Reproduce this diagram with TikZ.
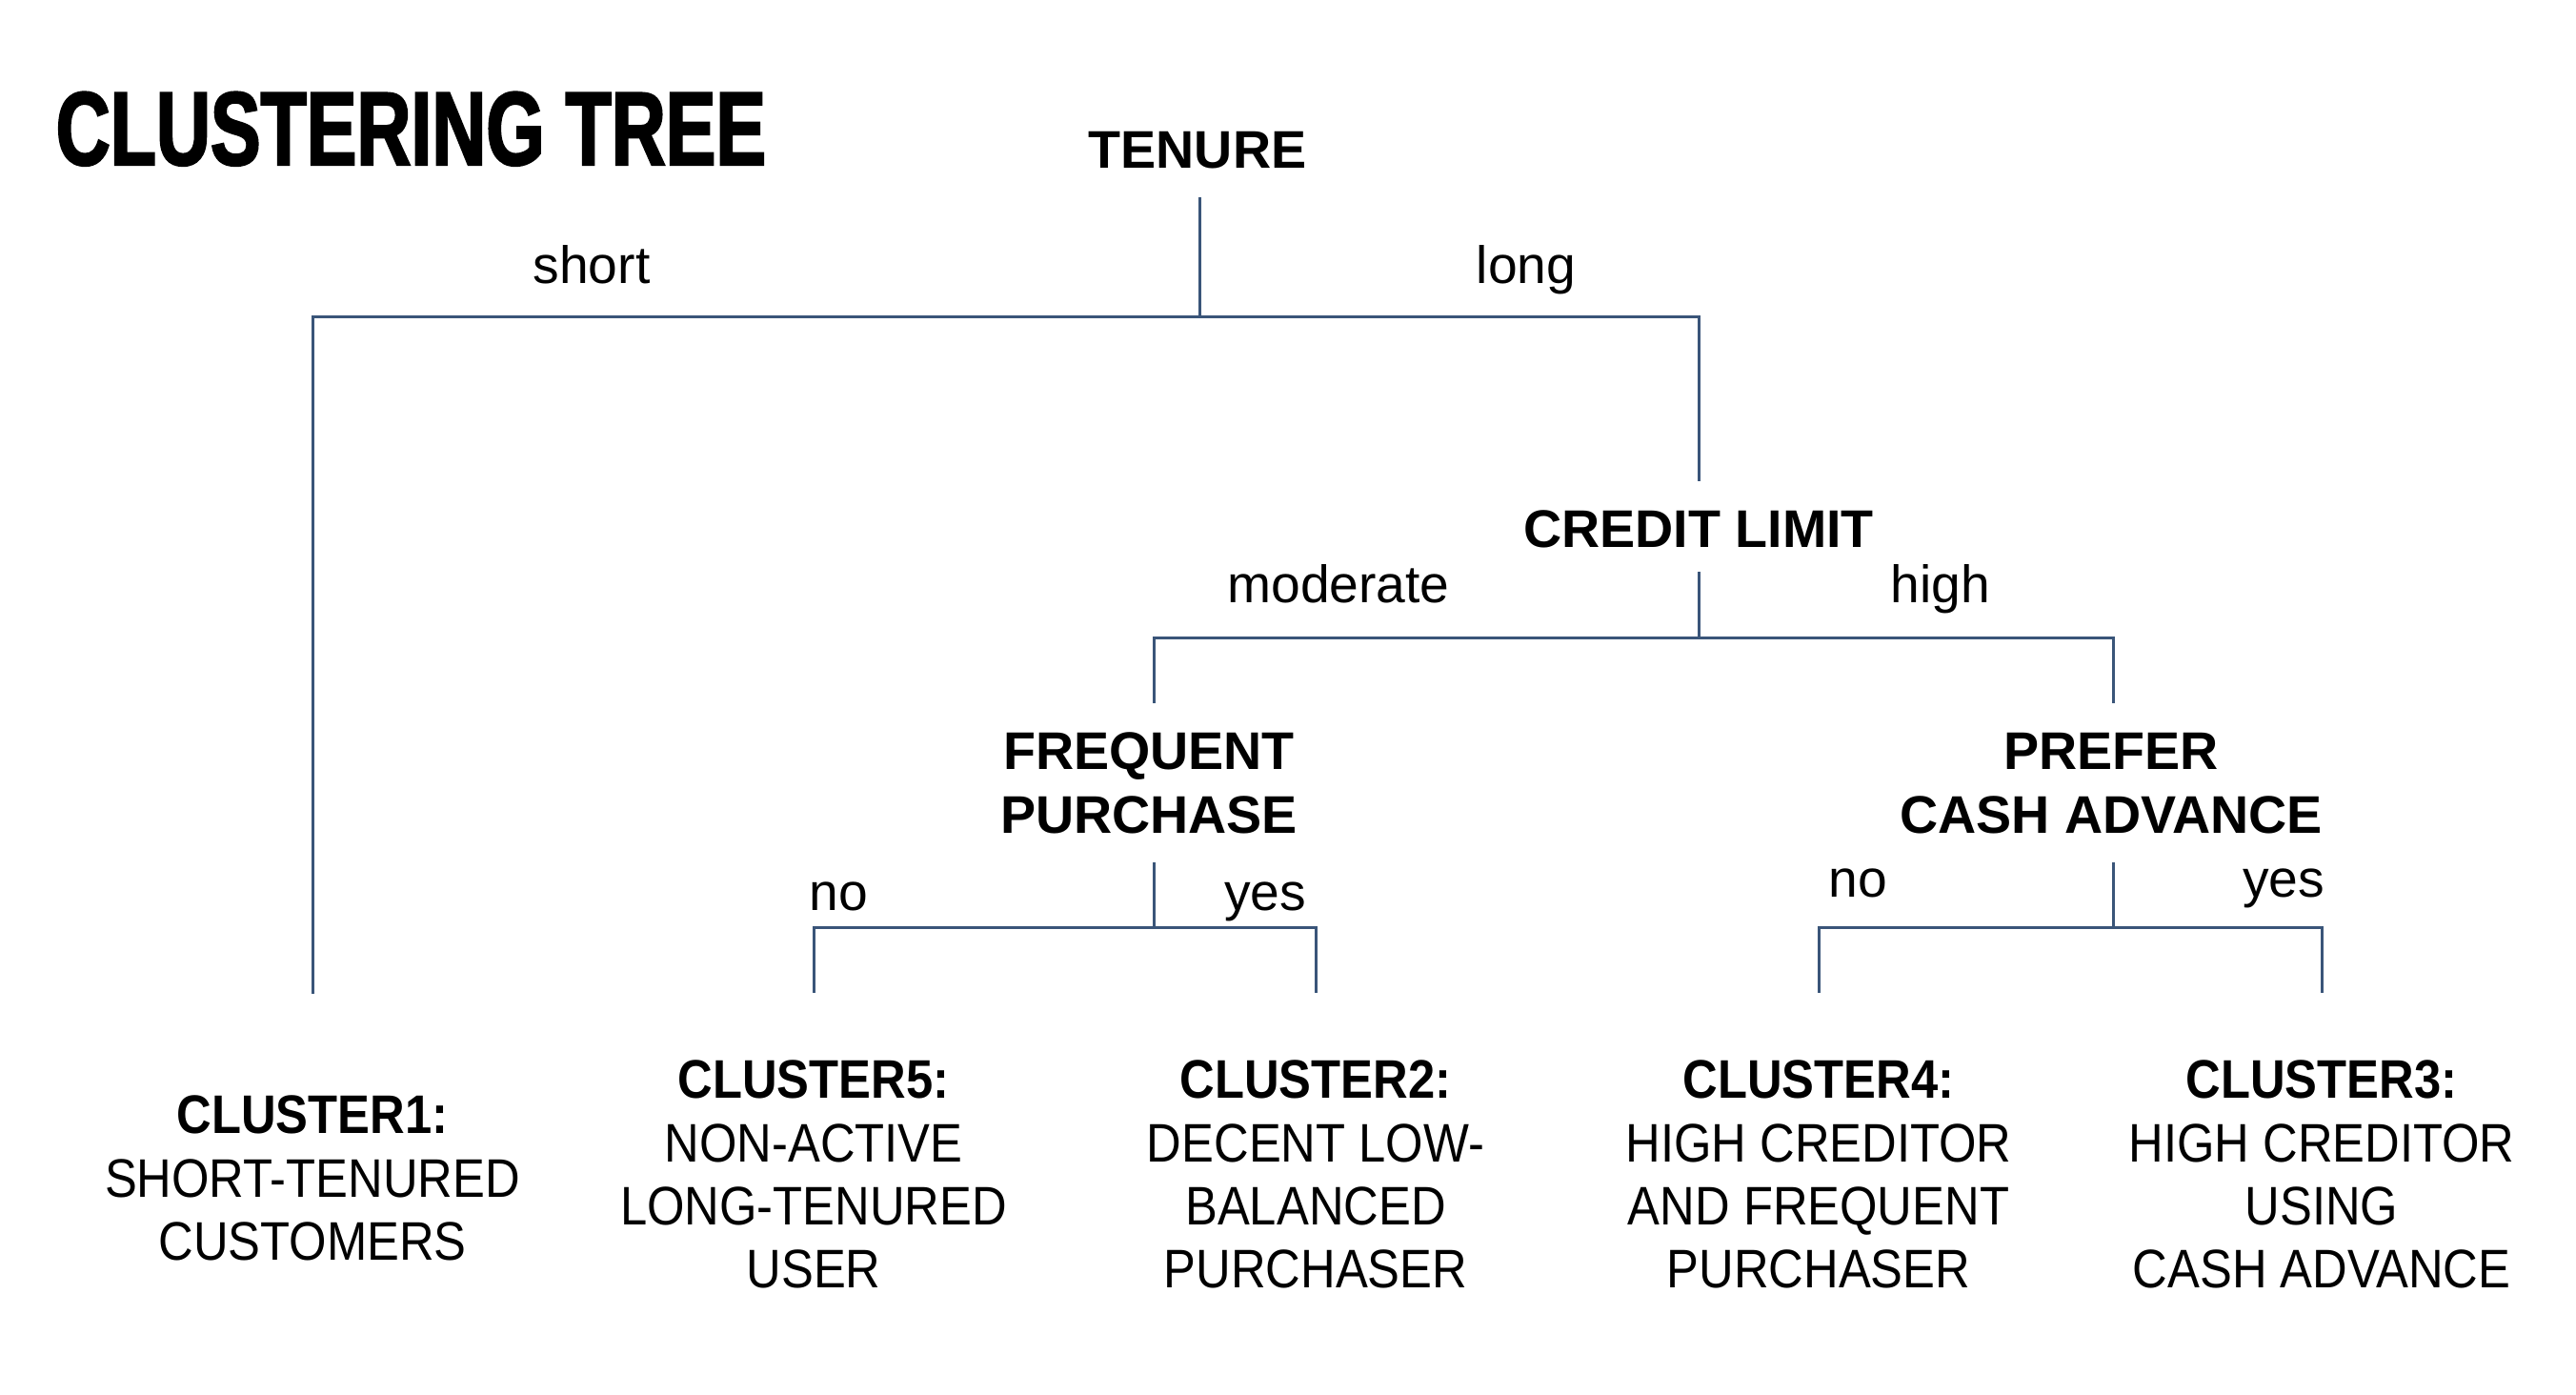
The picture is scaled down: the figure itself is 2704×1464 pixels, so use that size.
\documentclass[tikz,border=0pt]{standalone}
\usepackage{fontspec}
\setmainfont{Liberation Sans}
\newfontfamily\clusterfont[FakeStretch=0.89]{Liberation Sans}
\newfontfamily\titlefont[FakeStretch=0.72,FakeBold=2]{Liberation Sans Bold}
\definecolor{linecol}{HTML}{3A5579}
\begin{document}
\begin{tikzpicture}[x=0.25pt,y=-0.25pt,
  branch/.style={draw=linecol,line width=0.75pt},
  head/.style={font=\bfseries\fontsize{13.9}{16.75}\selectfont,align=center,inner sep=0pt},
  lab/.style={font=\fontsize{13.8}{16}\selectfont,inner sep=0pt,anchor=base},
  leaf/.style={font=\clusterfont\fontsize{14.25}{16.6}\selectfont,align=center,inner sep=0pt,anchor=north}]
\useasboundingbox[fill=white] (0,0) rectangle (2704,1464);

% title
\node[font=\titlefont\fontsize{27.4}{30}\selectfont,anchor=base west,inner sep=0pt] (title) at (58,173) {CLUSTERING TREE};

% decision nodes
\node[head,anchor=base] (tenure) at (1257,177) {TENURE};
\node[head,anchor=base] (credit) at (1783,575) {CREDIT LIMIT};
\node[head,anchor=north] (freq) at (1206,768) {FREQUENT\\PURCHASE};
\node[head,anchor=north] (cash) at (2216,768) {PREFER\\CASH ADVANCE};

% leaves
\node[leaf] (c1) at (328,1149) {{\bfseries CLUSTER1:}\\SHORT-TENURED\\CUSTOMERS};
\node[leaf] (c5) at (854,1112) {{\bfseries CLUSTER5:}\\NON-ACTIVE\\LONG-TENURED\\USER};
\node[leaf] (c2) at (1381,1112) {{\bfseries CLUSTER2:}\\DECENT LOW-\\BALANCED\\PURCHASER};
\node[leaf] (c4) at (1909,1112) {{\bfseries CLUSTER4:}\\HIGH CREDITOR\\AND FREQUENT\\PURCHASER};
\node[leaf] (c3) at (2437,1112) {{\bfseries CLUSTER3:}\\HIGH CREDITOR\\USING\\CASH ADVANCE};

% branch labels
\node[lab] (lshort) at (621,298) {short};
\node[lab] (llong) at (1602,298) {long};
\node[lab] (lmod) at (1405,632) {moderate};
\node[lab] (lhigh) at (2037,632) {high};
\node[lab] (lno1) at (880,955) {no};
\node[lab] (lyes1) at (1328,955) {yes};
\node[lab] (lno2) at (1950,941) {no};
\node[lab] (lyes2) at (2397,941) {yes};

% connector points
\coordinate (t0) at (1259,207);
\coordinate (h0) at (1259,333);
\coordinate (c1top) at (328,1043);
\coordinate (cr0) at (1783,505);
\coordinate (cr1) at (1783,600);
\coordinate (h1) at (1783,669);
\coordinate (fq0) at (1211,738);
\coordinate (ca0) at (2218,738);
\coordinate (fq1) at (1211,905);
\coordinate (h2) at (1211,973);
\coordinate (c5top) at (854,1042);
\coordinate (c2top) at (1381,1042);
\coordinate (ca1) at (2218,905);
\coordinate (h3) at (2218,973);
\coordinate (c4top) at (1909,1042);
\coordinate (c3top) at (2437,1042);

% connectors
\draw[branch] (t0) -- (h0);
\draw[branch] (c1top) |- (h0) -| (cr0);
\draw[branch] (cr1) -- (h1);
\draw[branch] (fq0) |- (h1) -| (ca0);
\draw[branch] (fq1) -- (h2);
\draw[branch] (c5top) |- (h2) -| (c2top);
\draw[branch] (ca1) -- (h3);
\draw[branch] (c4top) |- (h3) -| (c3top);
\end{tikzpicture}
\end{document}
